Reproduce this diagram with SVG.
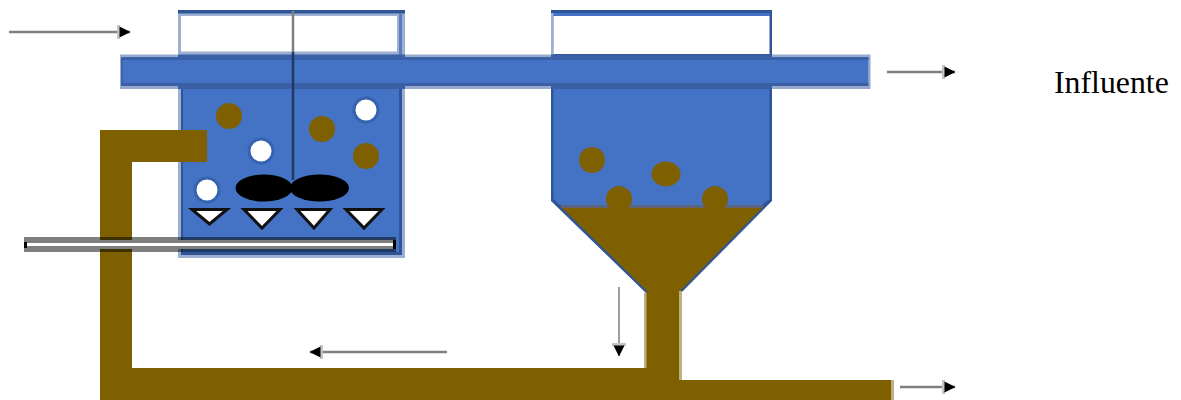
<svg xmlns="http://www.w3.org/2000/svg" width="1181" height="400" viewBox="0 0 1181 400">
<defs>
<marker id="ah2" markerWidth="15" markerHeight="16" refX="13" refY="8" orient="auto" markerUnits="userSpaceOnUse" viewBox="0 0 15 16"><rect x="0" y="1" width="3" height="14" fill="#c4c4c4"/><path d="M2.500 2.500L13.500 8L2.500 13.500Z" fill="#000"/></marker>
</defs>
<style>
.blue{fill:#4472c4}
.dark{fill:#2f5597}
.light{fill:#9db0d3}
.br{fill:#7f6000}
.fr{fill:#bfb07f}
.wh{fill:#fff;stroke:#3563b0;stroke-width:3}
.tri{fill:#fff;stroke:#111;stroke-width:3}
.arr{stroke:#7f7f7f;stroke-width:2.500;fill:none;marker-end:url(#ah2)}
.edge{fill:#2f5597;fill-opacity:.5}
.sh{fill:#000;fill-opacity:.5}
.gr{fill:#7f7f7f}
.band{fill:#3a5fa5}
text{font-family:"Liberation Serif","Times New Roman",serif;font-size:31.800px;fill:#000}
</style>
<g id="left-tank">
<rect class="light" x="178" y="10" width="227" height="248"/>
<rect class="dark" x="178" y="10" width="227" height="3.500"/>
<rect fill="#fff" x="181" y="16" width="216" height="35.500"/>
<rect fill="#5b7cbb" x="399" y="13" width="3" height="43"/>
<rect class="dark" x="181" y="86" width="221" height="169"/>
<rect class="blue" x="183" y="86" width="216" height="166"/>
</g>
<g id="right-tank">
<rect class="dark" x="551" y="10" width="221" height="46"/>
<rect class="blue" x="553" y="13" width="217" height="3"/>
<rect class="light" x="551" y="13" width="2.500" height="43"/>
<rect fill="#fff" x="553.500" y="16" width="216" height="38"/>
<path class="dark" d="M551 86H772V201L681 293H646L551 201Z"/>
<path class="blue" d="M553.500 86H769.500V199L762 205H560L553.500 199Z"/>
<path class="br" d="M561 207H763L680 291V300H647V291Z"/>
<rect fill="#5f6478" x="561" y="205" width="202" height="3"/>
</g>
<g id="channel">
<rect class="blue" x="121.500" y="57" width="747" height="29"/>
<rect class="edge" x="120" y="54.500" width="58" height="3"/>
<rect class="edge" x="405" y="54.500" width="146" height="3"/>
<rect class="edge" x="772" y="54.500" width="98.500" height="3"/>
<rect class="band" x="178" y="54.500" width="227" height="3"/>
<rect class="band" x="551" y="54.500" width="221" height="3"/>
<rect class="edge" x="120" y="86" width="58" height="3"/>
<rect class="edge" x="405" y="86" width="146" height="3"/>
<rect class="edge" x="772" y="86" width="98.500" height="3"/>
<rect class="band" x="178" y="86" width="227" height="3"/>
<rect class="band" x="551" y="86" width="221" height="3"/>
<rect class="edge" x="868.500" y="57.500" width="2" height="28.500"/>
<rect class="band" x="120.500" y="57.500" width="748" height="2.500"/>
<rect class="band" x="120.500" y="83" width="748" height="3"/>
<rect class="band" x="120.500" y="60" width="2" height="23"/>
</g>
<g id="sludge-line">
<rect class="fr" x="644" y="293" width="3" height="75"/>
<rect class="fr" x="679" y="291" width="3" height="89"/>
<rect class="fr" x="891" y="380" width="3" height="20"/>
<path class="br" d="M100 130H207V162H132V368H646.500V290H679V380H891V400H100Z"/>
</g>
<g id="mixer">
<path d="M293 11V52" stroke="#7f7f7f" stroke-width="2.500" fill="none"/>
<path d="M293 52V180" stroke="#203864" stroke-width="2.500" fill="none"/>
<ellipse cx="264" cy="188" rx="28.500" ry="13.500"/>
<ellipse cx="319.500" cy="188" rx="29.500" ry="13.500"/>
</g>
<g id="flocs">
<circle class="br" cx="229" cy="116" r="13"/>
<circle class="br" cx="322" cy="129" r="13"/>
<circle class="br" cx="366" cy="156" r="13"/>
<circle class="br" cx="592" cy="160" r="13"/>
<ellipse class="br" cx="666" cy="174" rx="14.500" ry="12.500"/>
<circle class="br" cx="619" cy="199" r="13"/>
<circle class="br" cx="715" cy="199" r="13"/>
</g>
<g id="bubbles">
<circle class="wh" cx="207" cy="190" r="12"/>
<circle class="wh" cx="261" cy="151" r="12"/>
<circle class="wh" cx="366" cy="110" r="12"/>
</g>
<g id="diffusers">
<path class="tri" d="M192 209.500H227L209.500 224Z"/>
<path class="tri" d="M244 209.500H280L262 228Z"/>
<path class="tri" d="M297 209.500H330L314 228Z"/>
<path class="tri" d="M346 209.500H382L364 228Z"/>
</g>
<g id="air-pipe">
<rect fill="#fff" x="24" y="240" width="372" height="9"/>
<rect class="gr" x="24" y="240" width="372" height="3"/>
<rect class="gr" x="24" y="246" width="372" height="3"/>
<rect class="sh" x="24" y="237" width="372" height="3"/>
<rect class="sh" x="24" y="249" width="372" height="3"/>
<path d="M25.500 242V248M394.500 240V249" stroke="#000" stroke-width="3"/>
</g>
<g id="connectors">
<path class="arr" d="M9 32H130"/>
<path class="arr" d="M887 72H955"/>
<path class="arr" d="M900 387H955"/>
<path class="arr" d="M447 352H310"/>
<path class="arr" style="stroke-width:1.500" d="M619 287V356"/>
</g>
<g id="label"><text x="1054" y="93">Influente</text></g>
</svg>
